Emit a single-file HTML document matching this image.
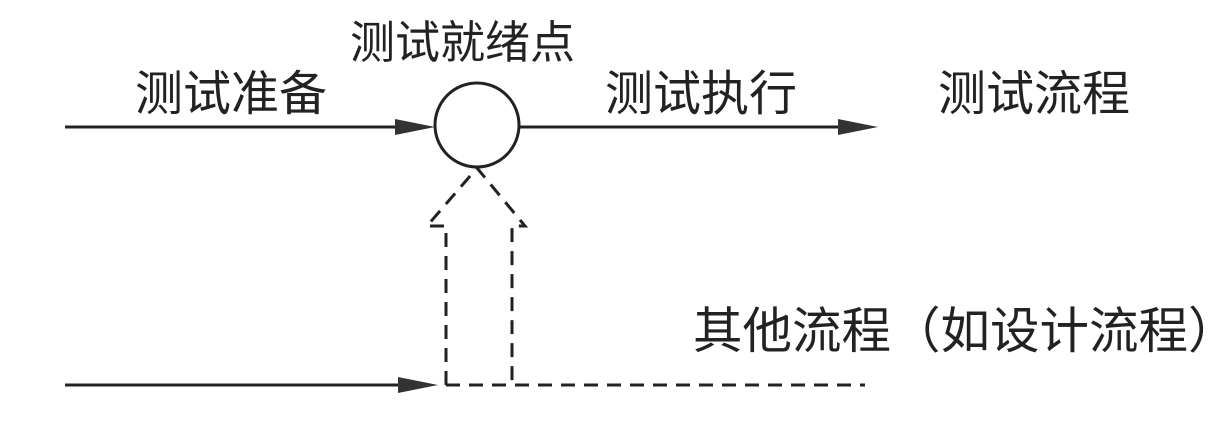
<!DOCTYPE html>
<html><head><meta charset="utf-8"><style>
body{margin:0;background:#fff;width:1226px;height:432px;overflow:hidden}
svg text{font-family:"Liberation Sans","Noto Sans CJK SC",sans-serif;fill:#222}
</style></head><body>
<svg width="1226" height="432" viewBox="0 0 1226 432">
<g stroke="#222" stroke-width="3" fill="none">
<line x1="65" y1="127" x2="420" y2="127"/>
<line x1="520" y1="127" x2="850" y2="127"/>
<line x1="65" y1="385" x2="410" y2="385"/>
<circle cx="477" cy="125" r="42"/>
<g stroke-dasharray="14,9">
<polyline points="446,385 446,226 427,226 477,168 525,226 512,226 512,385"/>
<line x1="446" y1="385" x2="865" y2="385"/>
</g>
</g>
<g fill="#333">
<polygon points="395,119 435,127 395,135"/>
<polygon points="838,119 878,127 838,135"/>
<polygon points="398,377 438,385 398,393"/>
</g>
<text x="350" y="58" font-size="45">测试就绪点</text>
<text x="135" y="110" font-size="48">测试准备</text>
<text x="605" y="110" font-size="48">测试执行</text>
<text x="938" y="110" font-size="48">测试流程</text>
<text x="693" y="348" font-size="49.5">其他流程（如设计流程）</text>
</svg>
</body></html>
